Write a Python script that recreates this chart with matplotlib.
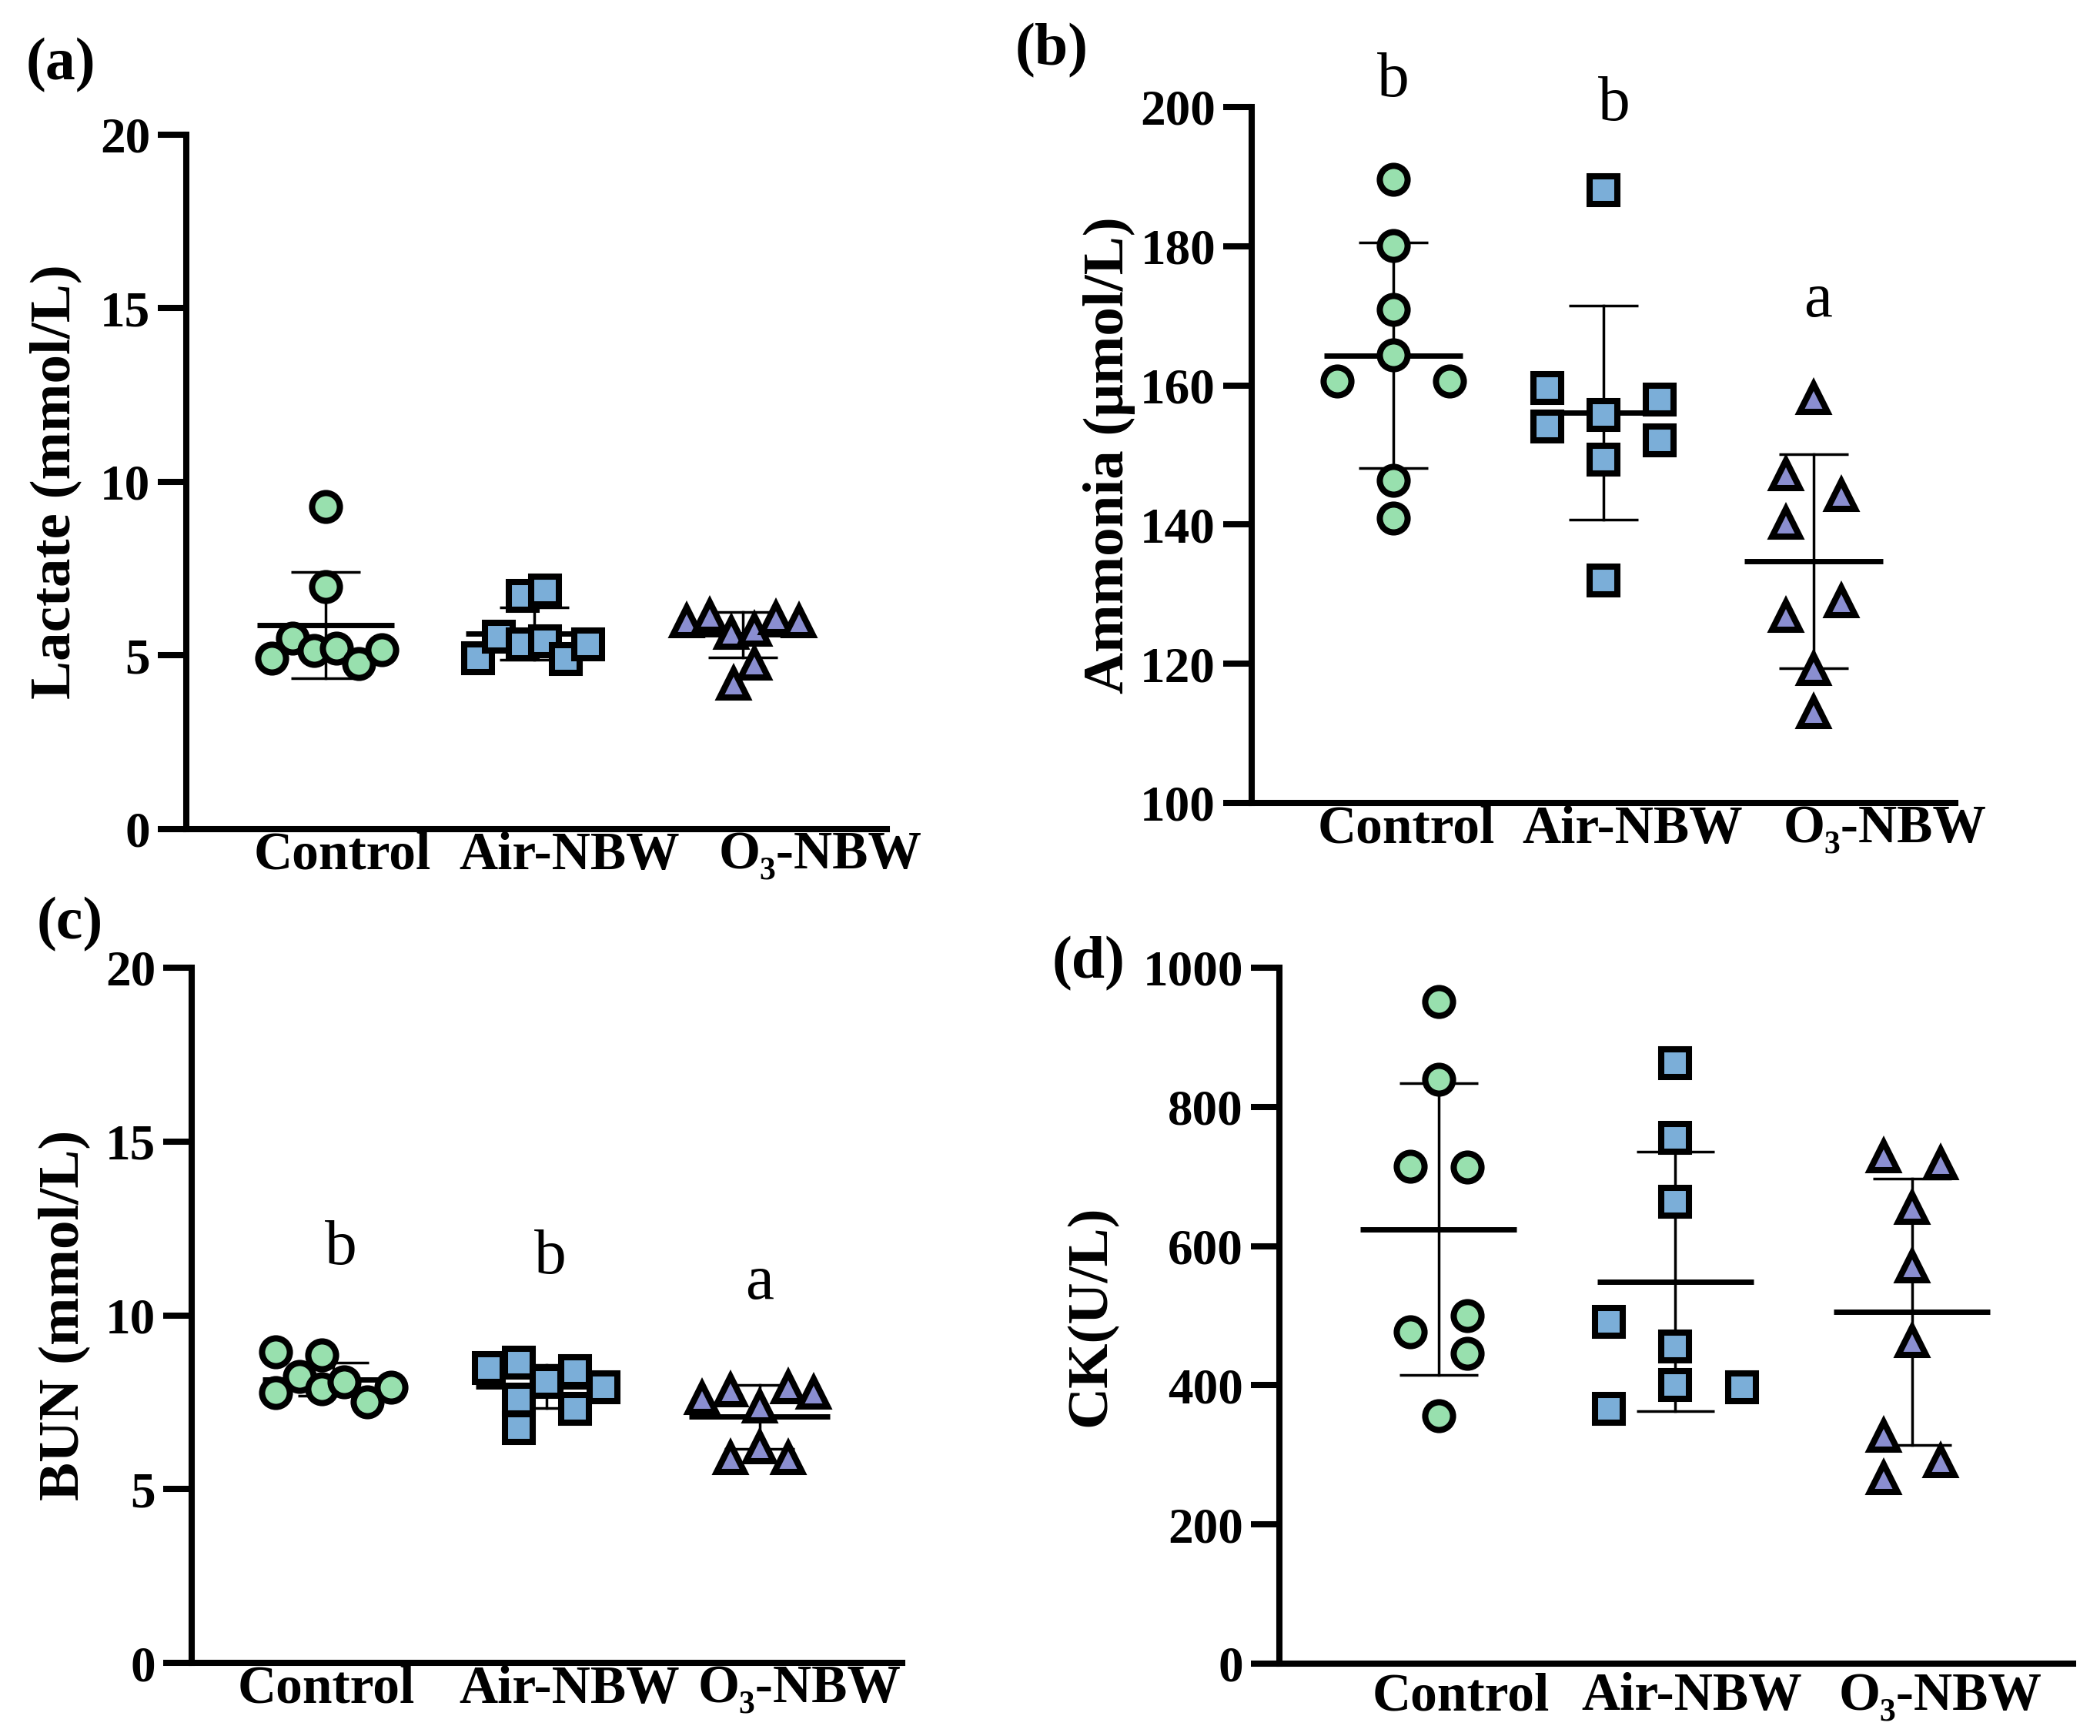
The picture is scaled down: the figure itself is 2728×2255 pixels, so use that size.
import numpy as np
import matplotlib
matplotlib.use("Agg")
import matplotlib.pyplot as plt

plt.rcParams['font.family'] = ['Liberation Serif', 'DejaVu Serif']

# ---------------------------------- data ----------------------------------
groups = ['Control', 'Air-NBW', 'O\u2083-NBW']

# (a) Lactate (mmol/L)
lac_ctrl = [4.93, 5.50, 5.14, 9.28, 6.99, 5.20, 4.76, 5.17]
lac_air = [4.93, 5.54, 6.71, 5.33, 6.88, 5.41, 4.89, 5.33]
lac_o3 = [5.98, 6.15, 5.66, 4.20, 5.74, 4.76, 6.07, 5.98]
lac_mean = [5.88, 5.63, 5.60]
lac_sd = [1.53, 0.76, 0.66]

# (b) Ammonia (umol/L)
amm_ctrl = [160.6, 189.6, 180.1, 170.9, 164.4, 146.3, 140.9, 160.6]
amm_air = [159.6, 154.1, 188.0, 155.8, 149.3, 132.0, 158.0, 152.1]
amm_o3 = [147.2, 140.3, 126.9, 158.2, 119.2, 113.0, 144.2, 129.0]
amm_mean = [164.3, 156.1, 134.75]
amm_sd = [16.2, 15.4, 15.35]
amm_letters = ['b', 'b', 'a']
amm_letter_y = [201.5, 198.1, 169.9]

# (c) BUN (mmol/L)
bun_ctrl = [8.95, 7.78, 8.24, 8.87, 7.88, 8.09, 7.51, 7.93]
bun_air = [8.48, 8.63, 7.57, 6.76, 8.09, 8.40, 7.31, 7.93]
bun_o3 = [7.62, 7.85, 5.90, 7.38, 6.21, 7.93, 5.90, 7.78]
bun_mean = [8.16, 7.95, 7.08]
bun_sd = [0.47, 0.62, 0.92]
bun_letters = ['b', 'b', 'a']
bun_letter_y = [11.47, 11.2, 10.48]

# (d) CK (U/L)
ck_ctrl = [714.7, 477.0, 950.9, 839.4, 356.2, 713.2, 500.4, 445.8]
ck_air = [491.0, 366.3, 862.8, 756.0, 664.0, 456.0, 400.0, 397.5]
ck_o3 = [728.8, 327.4, 266.6, 654.7, 571.3, 463.8, 718.6, 290.7]
ck_mean = [624.4, 549.1, 505.5]
ck_sd = [209.7, 186.7, 191.4]

# ---------------------------------- layout (scatter jitter, label spots) ----------------------------------
jit_a = [[-0.26, -0.16, -0.055, 0, 0, 0.05, 0.16, 0.27],
         [-0.27, -0.17, -0.055, -0.055, 0.05, 0.05, 0.15, 0.26],
         [-0.27, -0.16, -0.055, -0.045, 0.055, 0.055, 0.16, 0.27]]
jit_b = [[-0.267, 0, 0, 0, 0, 0, 0, 0.267],
         [-0.267, -0.267, 0, 0, 0, 0, 0.267, 0.267],
         [-0.133, -0.133, -0.133, 0, 0, 0, 0.133, 0.133]]
jit_c = [[-0.27, -0.27, -0.16, -0.054, -0.054, 0.05, 0.16, 0.27],
         [-0.27, -0.13, -0.13, -0.13, 0, 0.134, 0.134, 0.27],
         [-0.27, -0.134, -0.134, 0, 0, 0.134, 0.134, 0.254]]
jit_d = [[-0.12, -0.12, 0, 0, 0, 0.12, 0.12, 0.12],
         [-0.28, -0.28, 0, 0, 0, 0, 0, 0.28],
         [-0.12, -0.12, -0.12, 0, 0, 0, 0.12, 0.12]]

markers = ['o', 's', '^']
fills = ['#98E0AE', '#7BAED8', '#8A8ED0']

W, H = 2728, 2255
fig = plt.figure(figsize=(W / 200, H / 200), dpi=200)


def panel(rect, data, jit, mean, sd, ylim, yticks, ylabel, lab_x, xlim, xlab_pos, xpad):
    ax = fig.add_axes(rect)
    for g in range(3):
        x = g + 1
        # mean line + SD bar
        ax.plot([x - 0.33, x + 0.33], [mean[g], mean[g]], color='black', lw=2.5, zorder=2,
                solid_capstyle='butt')
        lo, hi = mean[g] - sd[g], mean[g] + sd[g]
        ax.plot([x, x], [lo, hi], color='black', lw=1.25, zorder=2)
        for v in (lo, hi):
            ax.plot([x - 0.165, x + 0.165], [v, v], color='black', lw=1.25, zorder=2,
                    solid_capstyle='butt')
        xs = x + np.array(jit[g])
        ax.plot(xs, data[g], linestyle='none', marker=markers[g], ms=13, mew=2.9,
                mfc=fills[g], mec='black', zorder=3, clip_on=False)
    ax.set_xlim(*xlim)
    ax.set_ylim(*ylim)
    ax.set_yticks(yticks)
    ax.set_yticklabels([str(t) for t in yticks], fontsize=23.5, fontweight='bold')
    ax.set_xticks(xlab_pos)
    ax.set_xticklabels(groups, fontsize=25, fontweight='bold')
    ax.tick_params(axis='x', length=0, pad=xpad)
    ax.tick_params(axis='y', length=13.3, width=2.9, pad=3.6, direction='out')
    for s in ('top', 'right'):
        ax.spines[s].set_visible(False)
    for s in ('left', 'bottom'):
        ax.spines[s].set_linewidth(2.9)
    ax.set_ylabel(ylabel, fontsize=27, fontweight='bold')
    ax.yaxis.label.set_verticalalignment('center')
    ax.yaxis.set_label_coords(lab_x, 0.5)
    return ax


ax_a = panel([242 / W, 1 - 1077 / H, 910 / W, 902 / H],
             [lac_ctrl, lac_air, lac_o3], jit_a, lac_mean, lac_sd,
             (0, 20), [0, 5, 10, 15, 20], 'Lactate (mmol/L)', -0.187,
             (0.332, 3.69), [1.081, 2.17, 3.37], 1.0)

ax_b = panel([1626 / W, 1 - 1043 / H, 914 / W, 904 / H],
             [amm_ctrl, amm_air, amm_o3], jit_b, amm_mean, amm_sd,
             (100, 200), [100, 120, 140, 160, 180, 200], 'Ammonia (\u03bcmol/L)', -0.202,
             (0.326, 3.674), [1.06, 2.14, 3.34], 1.0)

ax_c = panel([249 / W, 1 - 2160 / H, 923 / W, 903 / H],
             [bun_ctrl, bun_air, bun_o3], jit_c, bun_mean, bun_sd,
             (0, 20), [0, 5, 10, 15, 20], 'BUN (mmol/L)', -0.18,
             (0.336, 3.67), [0.968, 2.11, 3.19], 1.0)

ax_d = panel([1662 / W, 1 - 2161 / H, 1031 / W, 904 / H],
             [ck_ctrl, ck_air, ck_o3], jit_d, ck_mean, ck_sd,
             (0, 1000), [0, 200, 400, 600, 800, 1000], 'CK(U/L)', -0.237,
             (0.327, 3.68), [1.094, 2.07, 3.12], 4.0)

# significance letters
for x, t, y in zip([1.0, 2.05, 3.02], amm_letters, amm_letter_y):
    ax_b.text(x, y, t, fontsize=30, ha='center', va='baseline', clip_on=False)
for x, t, y in zip([1.036, 2.02, 3.0], bun_letters, bun_letter_y):
    ax_c.text(x, y, t, fontsize=30, ha='center', va='baseline')

# panel tags
for t, px, py in [('(a)', 79, 85), ('(b)', 1366, 66), ('(c)', 91, 1201), ('(d)', 1414, 1252)]:
    fig.text(px / W, 1 - py / H, t, fontsize=28, fontweight='bold', ha='center', va='center')

fig.savefig('out.png', dpi=200, facecolor='white')
